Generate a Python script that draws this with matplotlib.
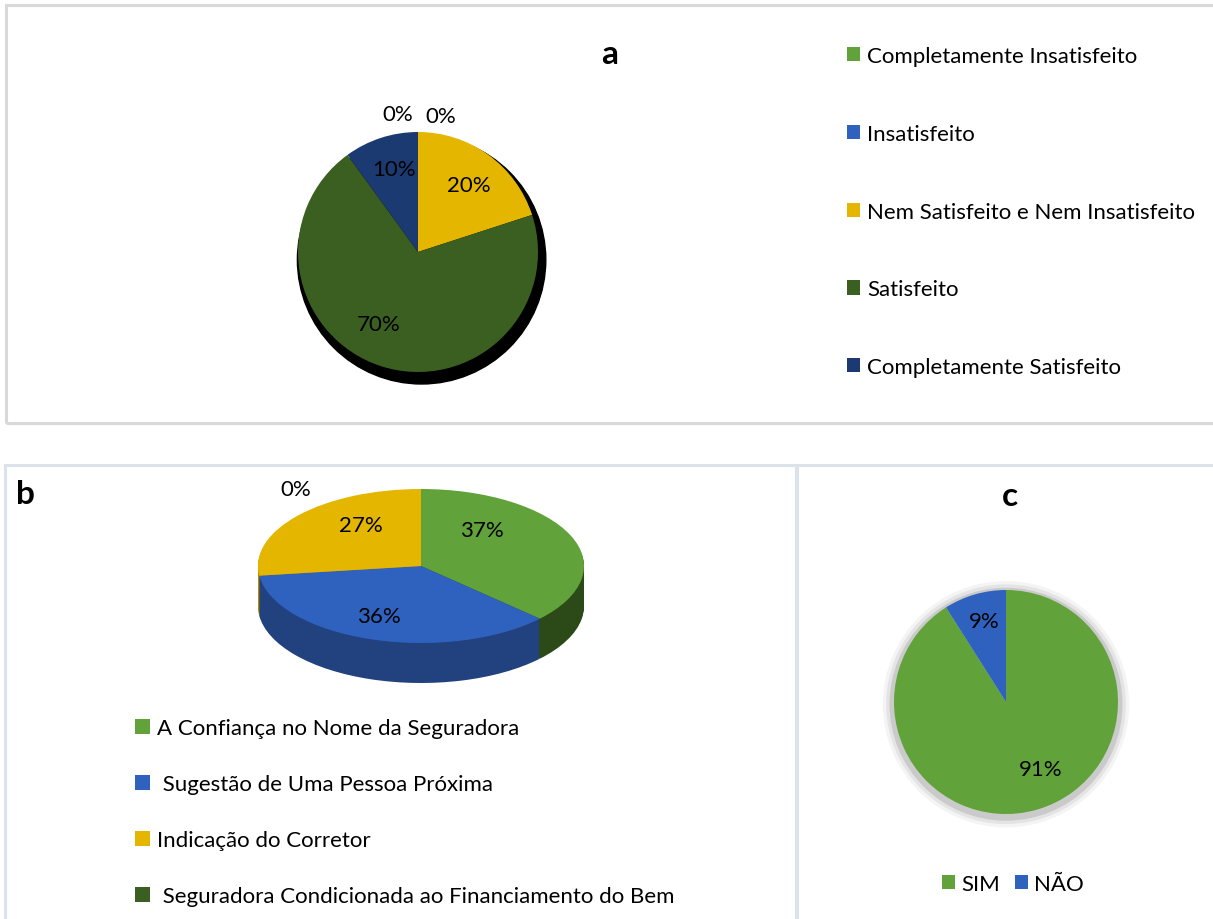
import matplotlib.pyplot as plt
from matplotlib.patches import Rectangle, Circle

# ---- dados ----
labels_a = ["Completamente Insatisfeito", "Insatisfeito",
            "Nem Satisfeito e Nem Insatisfeito", "Satisfeito",
            "Completamente Satisfeito"]
values_a = [0, 0, 20, 70, 10]

labels_b = ["A Confiança no Nome da Seguradora", " Sugestão de Uma Pessoa Próxima",
            "Indicação do Corretor", " Seguradora Condicionada ao Financiamento do Bem"]
values_b = [37, 36, 27, 0]

labels_c = ["SIM", "NÃO"]
values_c = [91, 9]

# couleurs
GREEN = "#62A23A"
BLUE = "#2F62BE"
YELLOW = "#E4B600"
DKGREEN = "#3B5E21"
NAVY = "#1C3A72"
colors_a = [GREEN, BLUE, YELLOW, DKGREEN, NAVY]
colors_b = [GREEN, BLUE, YELLOW, DKGREEN]
side_b = ["#2B4A17", "#22417F", "#B08C00", "#233A12"]
colors_c = [GREEN, BLUE]

FONT = "Lato"
FS = 16

W, H = 1213, 920
plt.rcParams["font.family"] = [FONT, "DejaVu Sans"]


def rect(x, y, w, h):
    # pixels (haut-gauche) -> fraction figure
    return [x / W, 1 - (y + h) / H, w / W, h / H]


def pct(v):
    return f"{v:.0f}%"


fig = plt.figure(figsize=(W / 100, H / 100), dpi=100)

# cadres
for (x, y, w, h, c) in [(6, 6, 1220, 418, "#D9D9D9"),
                         (5, 466, 791, 470, "#DCE2E9"),
                         (797, 466, 430, 470, "#DCE2E9")]:
    fig.patches.append(Rectangle((x / W, 1 - (y + h) / H), w / W, h / H,
                                 transform=fig.transFigure, fill=False,
                                 edgecolor=c, linewidth=2.2))

# ---------------- a ----------------
R = 120
ax_a = fig.add_axes(rect(418 - R, 253 - R, 2 * R, 2 * R))
ax_a.add_patch(Circle((0.03, -0.065), 1.035, color="black", zorder=0))
wedges_a, _, texts_a = ax_a.pie(values_a, colors=colors_a, startangle=90,
                                counterclock=False, autopct=pct,
                                pctdistance=0.72,
                                textprops=dict(fontsize=FS, color="black"))
ax_a.set_xlim(-1, 1)
ax_a.set_ylim(-1, 1)
pos_a = [(-0.17, 1.15), (0.19, 1.13), (0.425, 0.56), (-0.325, -0.6), (-0.2, 0.69)]
for t, p in zip(texts_a, pos_a):
    t.set_position(p)
    t.set_ha("center")
    t.set_va("center")
fig.text(610 / W, 1 - 55 / H, "a", fontsize=24, fontweight="bold",
         ha="center", va="center")
fig.legend(wedges_a, labels_a, loc="upper left",
           bbox_to_anchor=(847 / W, 1 - 47 / H), frameon=False,
           fontsize=FS, handlelength=0.6, handleheight=0.6,
           handletextpad=0.32, labelspacing=2.6, borderpad=0,
           borderaxespad=0)

# ---------------- b (pizza 3D) ----------------
rx, ry, depth = 163, 77, 40
d = depth / ry
ax_b = fig.add_axes(rect(421 - rx, 567 - ry, 2 * rx, 2 * ry + depth))
nl = 40
for k in range(nl, 0, -1):
    ax_b.pie(values_b, colors=side_b, startangle=90, counterclock=False,
             center=(0, -d * k / nl))
wedges_b, _, texts_b = ax_b.pie(values_b, colors=colors_b, startangle=90,
                                counterclock=False, autopct=pct,
                                textprops=dict(fontsize=FS, color="black"))
ax_b.set_aspect("auto")
ax_b.set_xlim(-1, 1)
ax_b.set_ylim(-1 - d, 1)
pos_b = [(0.374, 0.468), (-0.258, -0.65), (-0.368, 0.532), (-0.767, 1.0)]
for t, p in zip(texts_b, pos_b):
    t.set_position(p)
    t.set_ha("center")
    t.set_va("center")
    t.set_clip_on(False)
fig.text(25 / W, 1 - 495 / H, "b", fontsize=24, fontweight="bold",
         ha="center", va="center")
fig.legend(wedges_b, labels_b, loc="upper left",
           bbox_to_anchor=(135 / W, 1 - 719 / H), frameon=False,
           fontsize=FS, handlelength=0.68, handleheight=0.68,
           handletextpad=0.3, labelspacing=1.62, borderpad=0,
           borderaxespad=0)

# ---------------- c ----------------
Rc = 112
ax_c = fig.add_axes(rect(1006 - Rc, 703 - Rc, 2 * Rc, 2 * Rc))
for r, a in [(1.1, 0.08), (1.07, 0.13), (1.04, 0.24)]:
    ax_c.add_patch(Circle((0.0, -0.02), r, color="#7A7A7A", alpha=a,
                          linewidth=0, zorder=0))
wedges_c, _, texts_c = ax_c.pie(values_c, colors=colors_c, startangle=90,
                                counterclock=False, autopct=pct,
                                textprops=dict(fontsize=FS, color="black"))
ax_c.set_xlim(-1, 1)
ax_c.set_ylim(-1, 1)
for t, p in zip(texts_c, [(0.31, -0.6), (-0.19, 0.72)]):
    t.set_position(p)
    t.set_ha("center")
    t.set_va("center")
for ax in (ax_a, ax_b, ax_c):
    ax.set_clip_on(False)
    for w in ax.patches:
        w.set_clip_on(False)
fig.text(1010 / W, 1 - 497 / H, "c", fontsize=24, fontweight="bold",
         ha="center", va="center")
fig.legend(wedges_c, labels_c, loc="center",
           bbox_to_anchor=(1013 / W, 1 - 885 / H), frameon=False, ncol=2,
           fontsize=FS, handlelength=0.6, handleheight=0.6,
           handletextpad=0.3, columnspacing=0.63, borderpad=0,
           borderaxespad=0)

fig.savefig("out.png", dpi=100)
